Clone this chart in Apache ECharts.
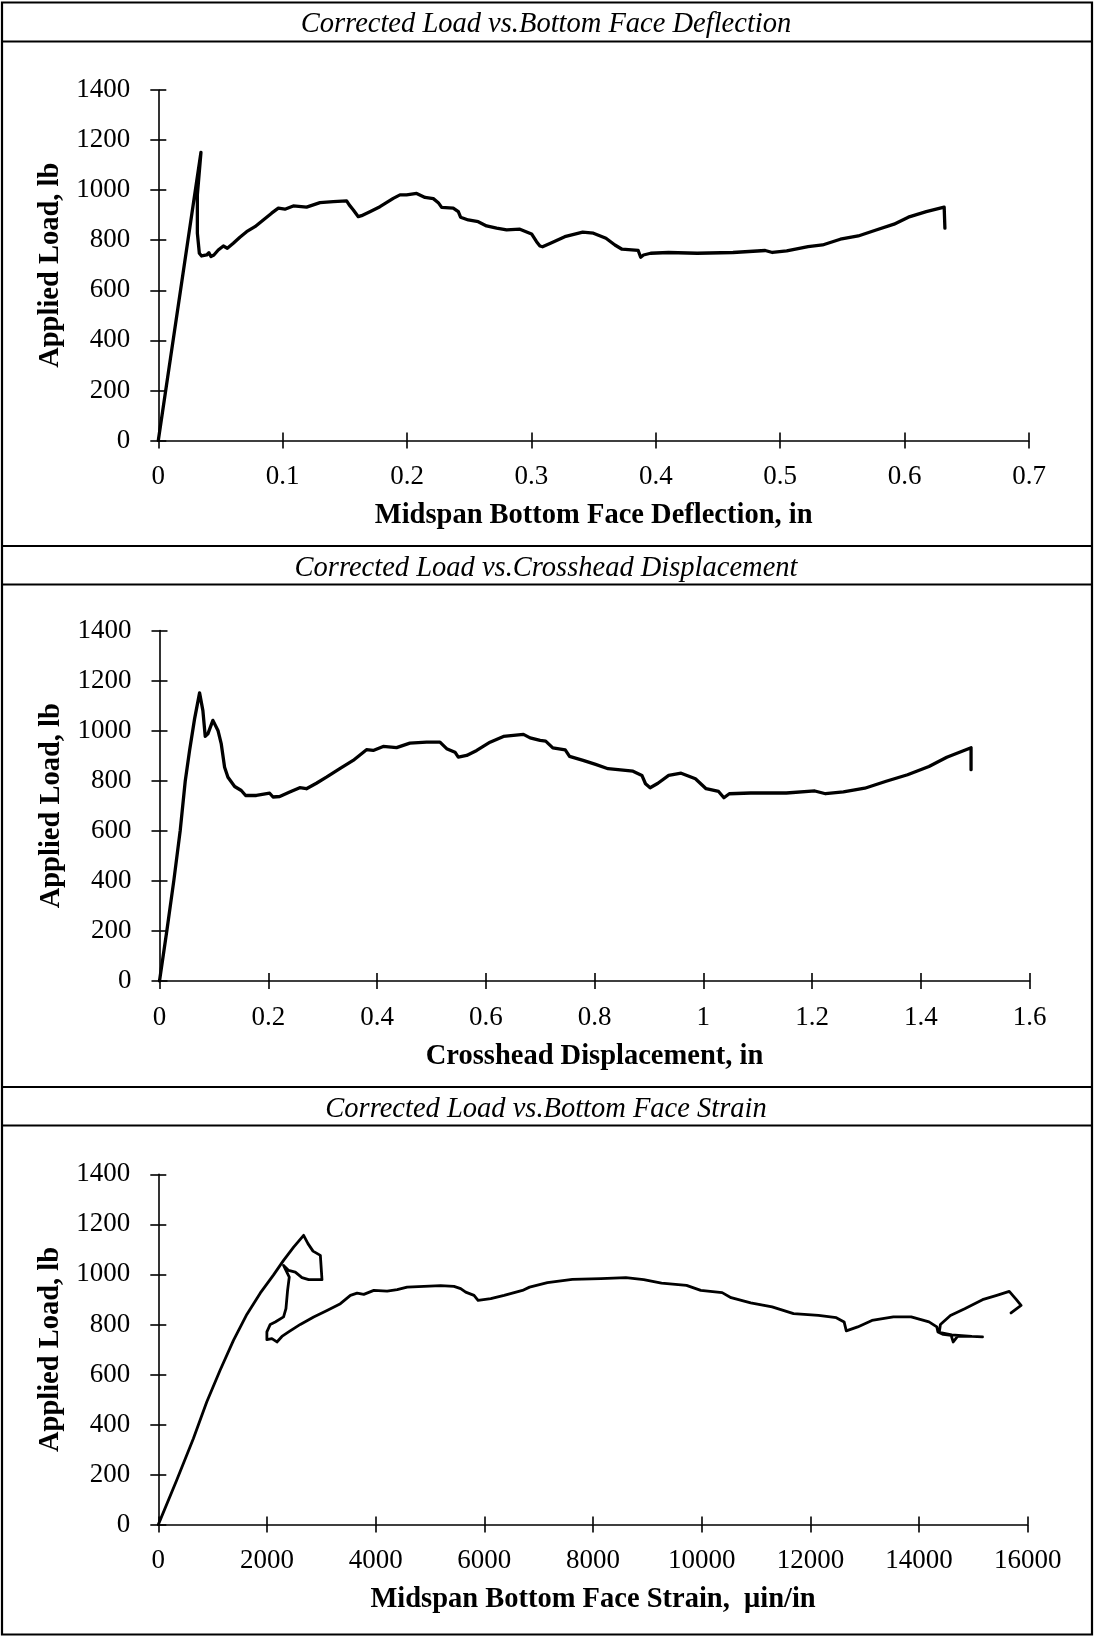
<!DOCTYPE html>
<html><head><meta charset="utf-8">
<script src="https://cdn.jsdelivr.net/npm/echarts@6/dist/echarts.min.js"></script>
<style>html,body{margin:0;padding:0;background:#fff}#c{width:1094px;height:1638px}</style>
</head><body><div id="c"></div><script>
// ---- Panel 1: load vs bottom face deflection ----
const deflX = [
 0, 0.0343, 0.0314, 0.0314, 0.0330, 0.0348, 0.0389, 0.0407, 0.0423, 0.0447,
 0.0482, 0.0523, 0.0555, 0.0603, 0.0656, 0.0710, 0.0777, 0.0844, 0.0911, 0.0965,
 0.1018, 0.1085, 0.1192, 0.1300, 0.1407, 0.1514, 0.1535, 0.1568, 0.1608, 0.1634,
 0.1701, 0.1782, 0.1889, 0.1943, 0.1996, 0.2077, 0.2144, 0.2211, 0.2251, 0.2278,
 0.2371, 0.2412, 0.2430, 0.2492, 0.2572, 0.2639, 0.2720, 0.2800, 0.2907, 0.3001,
 0.3041, 0.3068, 0.3089, 0.3153, 0.3268, 0.3412, 0.3498, 0.3599, 0.3671, 0.3728,
 0.3858, 0.3878, 0.3901, 0.3958, 0.4102, 0.4332, 0.4620, 0.4879, 0.4937, 0.5052,
 0.5224, 0.5340, 0.5483, 0.5627, 0.5771, 0.5915, 0.6030, 0.6174, 0.6318, 0.6324
];
const deflLoad = [
 0, 1151, 981, 828, 748, 737, 741, 750, 735, 741,
 761, 777, 768, 788, 812, 834, 854, 881, 908, 928,
 924, 937, 932, 950, 954, 957, 941, 921, 894, 898,
 914, 934, 967, 981, 981, 987, 971, 966, 950, 931,
 928, 914, 892, 881, 874, 857, 848, 841, 844, 825,
 794, 777, 774, 788, 814, 832, 828, 808, 781, 764,
 759, 732, 741, 748, 751, 748, 751, 759, 751, 757,
 774, 781, 804, 817, 841, 864, 892, 914, 932, 848
];
// ---- Panel 2: load vs crosshead displacement ----
const crossX = [
 0, 0.0135, 0.0264, 0.0381, 0.0473, 0.0553, 0.0645, 0.0737, 0.0798, 0.0841,
 0.0890, 0.0982, 0.1075, 0.1136, 0.1197, 0.1259, 0.1382, 0.1504, 0.1584, 0.1781,
 0.2026, 0.2088, 0.2211, 0.2395, 0.2579, 0.2702, 0.2886, 0.3070, 0.3316, 0.3561,
 0.3807, 0.3930, 0.4114, 0.4360, 0.4605, 0.4912, 0.5158, 0.5281, 0.5434, 0.5495,
 0.5649, 0.5834, 0.6079, 0.6325, 0.6693, 0.6816, 0.7000, 0.7102, 0.7233, 0.7462,
 0.7541, 0.7790, 0.8020, 0.8249, 0.8708, 0.8872, 0.8938, 0.9023, 0.9167, 0.9364,
 0.9593, 0.9856, 1.0052, 1.0282, 1.0380, 1.0479, 1.0872, 1.1528, 1.2052, 1.2249,
 1.2577, 1.2970, 1.3364, 1.3757, 1.4151, 1.4479, 1.4925, 1.4925
];
const crossLoad = [
 0, 201, 402, 601, 798, 921, 1047, 1151, 1080, 977,
 987, 1041, 1001, 947, 854, 814, 777, 761, 741, 741,
 750, 735, 737, 755, 772, 768, 790, 814, 848, 881,
 924, 921, 937, 932, 950, 954, 954, 928, 914, 894,
 901, 921, 954, 977, 985, 971, 961, 958, 931, 923,
 897, 881, 865, 848, 838, 821, 788, 772, 790, 821,
 830, 808, 768, 757, 732, 748, 751, 751, 759, 748,
 755, 770, 798, 824, 857, 894, 932, 844
];
// ---- Panel 3: load vs bottom face strain ----
const strainX = [
 0, 338, 646, 891, 1137, 1383, 1629, 1875, 2121, 2305,
 2490, 2674, 2754, 2847, 2982, 3012, 2767, 2644, 2521, 2398,
 2305, 2410, 2379, 2349, 2305, 2152, 2060, 1998, 1998, 2090,
 2183, 2275, 2398, 2613, 2859, 3105, 3351, 3535, 3658, 3781,
 3966, 4211, 4396, 4580, 4888, 5195, 5441, 5564, 5656, 5810,
 5884, 6117, 6363, 6701, 6832, 7160, 7619, 8144, 8604, 8932,
 9260, 9720, 9982, 10376, 10540, 10901, 11295, 11689, 12148, 12476,
 12620, 12660, 12870, 13132, 13526, 13854, 14182, 14326, 14346, 14444,
 14589, 14628, 14707, 14970, 15167, 14970, 14600, 14370, 14392, 14576,
 14839, 15167, 15429, 15659, 15790, 15876, 15692
];
const strainLoad = [
 0, 177, 344, 490, 617, 736, 840, 925, 998, 1056,
 1109, 1156, 1123, 1093, 1076, 979, 979, 987, 1009, 1016,
 1036, 989, 936, 863, 830, 810, 800, 770, 739, 743,
 730, 752, 770, 800, 830, 856, 883, 916, 925, 920,
 936, 933, 939, 949, 952, 955, 952, 943, 929, 916,
 896, 903, 916, 936, 949, 967, 980, 983, 987, 979,
 965, 956, 936, 927, 907, 886, 870, 843, 836, 827,
 810, 774, 790, 816, 830, 830, 810, 790, 770, 760,
 756, 730, 752, 752, 750, 752, 758, 768, 800, 836,
 863, 899, 916, 932, 899, 876, 846
];
// ---- Texts and axis ranges ----
const panelTitles = ['Corrected Load vs.Bottom Face Deflection', 'Corrected Load vs.Crosshead Displacement', 'Corrected Load vs.Bottom Face Strain'];
const xAxisNames = ['Midspan Bottom Face Deflection, in', 'Crosshead Displacement, in', 'Midspan Bottom Face Strain,  \u03bcin/in'];
const yAxisName = 'Applied Load, lb';
const xMaxes = [0.7, 1.6, 16000];
const xIntervals = [0.1, 0.2, 2000];
const xDecimals = [1, 1, 0];
const yMax = 1400, yInterval = 200;

const panels = [
  {x: deflX, y: deflLoad, grid: {left: 158.3, top: 90, width: 870.7, height: 350.5}, titleY: 24.5, lw: 3.3},
  {x: crossX, y: crossLoad, grid: {left: 159.5, top: 630.5, width: 870, height: 350.5}, titleY: 569, lw: 3.3},
  {x: strainX, y: strainLoad, grid: {left: 158.3, top: 1174.3, width: 869.5, height: 350.3}, titleY: 1110, lw: 2.8}
];

const FONT = '"Liberation Serif", "Times New Roman", serif';
const grids = [], xAxes = [], yAxes = [], series = [], graphics = [];
panels.forEach((p, i) => {
  grids.push(Object.assign({containLabel: false}, p.grid));
  const dec = xDecimals[i];
  const common = {gridIndex: i, type: 'value', splitLine: {show: false}};
  // main x axis (ticks outside + labels + name)
  xAxes.push(Object.assign({}, common, {
    position: 'bottom', min: 0, max: xMaxes[i], interval: xIntervals[i],
    axisLine: {lineStyle: {color: '#000', width: 1.6}},
    axisTick: {inside: false, length: 8, lineStyle: {color: '#000', width: 1.6}},
    axisLabel: {color: '#000', fontFamily: FONT, fontSize: 27, margin: 23,
      formatter: v => String(Number(v.toFixed(dec)))},
    name: xAxisNames[i], nameLocation: 'middle', nameGap: 61,
    nameTextStyle: {color: '#000', fontFamily: FONT, fontSize: 28.5, fontWeight: 'bold'}
  }));
  // aux x axis (ticks inside)
  xAxes.push(Object.assign({}, common, {
    position: 'bottom', min: 0, max: xMaxes[i], interval: xIntervals[i],
    axisLine: {show: false},
    axisTick: {inside: true, length: 8, lineStyle: {color: '#000', width: 1.6}},
    axisLabel: {show: false}
  }));
  yAxes.push(Object.assign({}, common, {
    position: 'left', min: 0, max: yMax, interval: yInterval,
    axisLine: {show: true, lineStyle: {color: '#000', width: 1.6}},
    axisTick: {show: true, inside: false, length: 8, lineStyle: {color: '#000', width: 1.6}},
    axisLabel: {color: '#000', fontFamily: FONT, fontSize: 27, margin: 28,
      formatter: v => String(v)},
    name: yAxisName, nameLocation: 'middle', nameGap: 85, nameRotate: 90,
    nameTextStyle: {color: '#000', fontFamily: FONT, fontSize: 28.5, fontWeight: 'bold'}
  }));
  yAxes.push(Object.assign({}, common, {
    position: 'left', min: 0, max: yMax, interval: yInterval,
    axisLine: {show: false},
    axisTick: {show: true, inside: true, length: 8, lineStyle: {color: '#000', width: 1.6}},
    axisLabel: {show: false}
  }));
  series.push({
    type: 'line', xAxisIndex: 2 * i, yAxisIndex: 2 * i,
    data: p.x.map((v, k) => [v, p.y[k]]),
    showSymbol: false, smooth: false, animation: false,
    lineStyle: {color: '#000', width: p.lw, join: 'round', cap: 'round'},
    emphasis: {disabled: true}
  });
  graphics.push({
    type: 'text', silent: true,
    style: {text: panelTitles[i], x: 546, y: p.titleY, align: 'center', verticalAlign: 'middle',
      textAlign: 'center', textVerticalAlign: 'middle',
      font: 'italic 28.5px ' + FONT, fill: '#000'}
  });
});
// table-like frame
graphics.push({type: 'rect', silent: true, shape: {x: 2, y: 2.5, width: 1090, height: 1632},
  style: {fill: 'none', stroke: '#000', lineWidth: 2.2}});
[41.5, 546, 584.5, 1087, 1125.5].forEach(yy => {
  graphics.push({type: 'line', silent: true, shape: {x1: 2, y1: yy, x2: 1092, y2: yy},
    style: {stroke: '#000', lineWidth: 2.2}});
});

const chart = echarts.init(document.getElementById('c'), null, {renderer: 'canvas'});
chart.setOption({
  backgroundColor: '#fff',
  animation: false,
  grid: grids, xAxis: xAxes, yAxis: yAxes, series: series,
  graphic: graphics
});
</script></body></html>
